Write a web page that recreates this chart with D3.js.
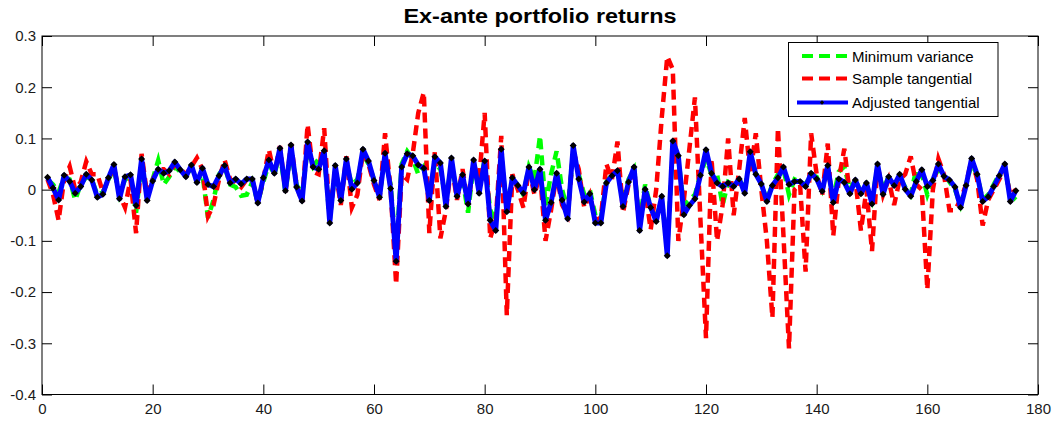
<!DOCTYPE html>
<html>
<head>
<meta charset="utf-8">
<script src="https://cdn.jsdelivr.net/npm/d3@7"></script>
<style>
  html, body { margin: 0; padding: 0; background: #fff; }
  svg { display: block; font-family: "Liberation Sans", Arial, Helvetica, sans-serif; }
</style>
</head>
<body>
<svg id="chart" width="1062" height="421"></svg>
<script>
// Ex-ante returns of three portfolios, one value per period (periods 1..176)
const minimumVariance = [
  0.020, 0.010, -0.005, 0.025, 0.020, -0.020, 0.010, 0.025, 0.020, -0.010,
  -0.005, 0.020, 0.040, -0.010, 0.020, 0.025, -0.045, 0.050, -0.010, 0.020,
  0.057, 0.010, 0.025, 0.045, 0.035, 0.030, 0.040, 0.020, 0.030, -0.055,
  -0.020, 0.030, 0.045, 0.010, 0.005, -0.012, -0.010, 0.015, -0.025, 0.015,
  0.050, 0.030, 0.070, -0.005, 0.075, 0.010, -0.010, 0.080, 0.045, 0.060,
  0.070, -0.060, 0.040, -0.015, 0.050, 0.010, 0.020, 0.070, 0.050, 0.020,
  -0.010, 0.060, 0.010, -0.120, 0.050, 0.075, 0.060, 0.030, 0.045, -0.005,
  0.050, 0.040, -0.020, 0.050, -0.005, 0.020, -0.045, 0.050, 0.000, 0.060,
  -0.040, -0.060, 0.060, -0.030, 0.020, 0.010, -0.010, 0.045, 0.020, 0.105,
  -0.030, 0.030, 0.075, 0.000, -0.040, 0.070, 0.030, -0.010, 0.000, -0.050,
  -0.055, 0.015, 0.030, 0.035, -0.020, 0.020, 0.040, -0.060, 0.010, -0.035,
  -0.055, -0.020, -0.110, 0.075, 0.060, -0.030, -0.020, -0.010, 0.030, 0.060,
  0.030, 0.030, -0.030, 0.015, 0.010, 0.020, 0.000, 0.060, 0.035, 0.010,
  -0.020, 0.010, 0.030, 0.040, -0.010, 0.020, 0.015, 0.010, 0.030, 0.025,
  0.000, 0.040, -0.015, 0.035, 0.045, 0.000, 0.020, -0.005, 0.010, -0.020,
  0.045, 0.000, 0.025, 0.010, 0.025, 0.005, -0.010, 0.040, 0.030, -0.010,
  0.020, 0.040, 0.030, 0.015, 0.000, -0.030, 0.010, 0.050, 0.030, -0.020,
  -0.010, 0.010, 0.030, 0.040, -0.010, -0.020
];

const sampleTangential = [
  0.020, -0.010, -0.060, 0.020, 0.045, 0.000, 0.015, 0.055, 0.030, 0.030,
  -0.005, 0.020, 0.045, -0.010, -0.035, 0.020, -0.085, 0.070, -0.010, 0.020,
  0.040, 0.040, 0.030, 0.050, 0.040, 0.030, 0.045, 0.062, 0.040, -0.052,
  -0.030, 0.020, 0.058, 0.020, 0.015, 0.005, 0.020, 0.020, -0.026, 0.020,
  0.078, 0.030, 0.085, -0.005, 0.090, 0.010, -0.025, 0.127, 0.035, 0.030,
  0.120, -0.055, 0.040, -0.030, 0.065, -0.035, -0.010, 0.075, 0.050, 0.010,
  -0.020, 0.110, 0.000, -0.185, 0.030, 0.020, 0.070, 0.150, 0.190, -0.085,
  0.075, -0.095, -0.040, 0.050, -0.020, 0.040, -0.030, 0.050, 0.020, 0.150,
  -0.095, -0.060, 0.105, -0.245, 0.030, 0.000, -0.035, 0.040, -0.010, 0.030,
  -0.100, -0.040, 0.030, -0.030, -0.050, 0.075, 0.040, -0.035, -0.010, -0.060,
  -0.055, 0.050, 0.020, 0.094, -0.045, 0.010, 0.040, -0.070, 0.000, -0.078,
  0.000, 0.140, 0.260, 0.235, -0.100, -0.020, 0.080, 0.180, -0.060, -0.290,
  0.060, -0.100, -0.030, 0.100, -0.050, 0.040, 0.140, 0.030, 0.110, 0.000,
  -0.100, -0.250, 0.120, -0.090, -0.310, 0.000, 0.010, -0.160, 0.110, 0.030,
  -0.010, 0.090, -0.090, 0.020, 0.080, -0.010, 0.020, -0.080, 0.000, -0.120,
  0.050, -0.010, 0.020, -0.030, 0.020, 0.030, 0.065, 0.010, 0.000, -0.195,
  0.000, 0.060, 0.030, -0.040, -0.040, -0.020, 0.010, 0.060, 0.020, -0.070,
  -0.020, 0.000, 0.020, 0.040, -0.010, 0.000
];

const adjustedTangential = [
  0.024, 0.003, -0.020, 0.028, 0.016, -0.007, 0.006, 0.030, 0.019, -0.015,
  -0.009, 0.023, 0.049, -0.018, 0.025, 0.029, -0.031, 0.060, -0.021, 0.017,
  0.040, 0.032, 0.037, 0.054, 0.039, 0.025, 0.048, 0.014, 0.042, 0.010,
  0.006, 0.027, 0.047, 0.013, 0.021, 0.011, 0.021, 0.021, -0.026, 0.023,
  0.058, 0.032, 0.081, -0.002, 0.087, 0.005, -0.022, 0.093, 0.044, 0.040,
  0.076, -0.065, 0.047, -0.021, 0.060, 0.001, 0.013, 0.079, 0.056, 0.018,
  -0.015, 0.071, 0.002, -0.140, 0.044, 0.070, 0.066, 0.048, 0.042, -0.021,
  0.064, 0.052, -0.033, 0.062, -0.013, 0.029, -0.028, 0.058, -0.007, 0.056,
  -0.060, -0.080, 0.079, -0.043, 0.023, 0.008, -0.007, 0.044, 0.000, 0.040,
  -0.060, -0.025, 0.032, -0.020, -0.057, 0.086, 0.021, -0.024, -0.008, -0.065,
  -0.065, 0.013, 0.027, 0.037, -0.033, 0.015, 0.044, -0.080, 0.001, -0.035,
  -0.062, -0.013, -0.129, 0.095, 0.066, -0.049, -0.031, -0.018, 0.028, 0.078,
  0.032, 0.013, 0.006, 0.013, 0.006, 0.021, -0.007, 0.074, 0.030, 0.011,
  -0.023, 0.008, 0.023, 0.044, 0.010, 0.016, 0.016, 0.006, 0.032, 0.021,
  -0.003, 0.047, -0.025, 0.021, 0.014, -0.008, 0.019, -0.008, 0.013, -0.028,
  0.050, -0.009, 0.025, 0.008, 0.030, 0.001, -0.013, 0.016, 0.039, 0.006,
  0.018, 0.050, 0.026, 0.019, 0.005, -0.035, 0.008, 0.061, 0.030, -0.023,
  -0.014, 0.006, 0.027, 0.050, -0.023, -0.002
];

const seriesNames = ["Minimum variance", "Sample tangential", "Adjusted tangential"];
const xTickValues = [0, 20, 40, 60, 80, 100, 120, 140, 160, 180];
const yTickValues = [0.3, 0.2, 0.1, 0, -0.1, -0.2, -0.3, -0.4];
const yTickLabels = ["0.3", "0.2", "0.1", "0", "-0.1", "-0.2", "-0.3", "-0.4"];
const chartTitle = "Ex-ante portfolio returns";

const svg = d3.select("#chart");
const plotLeft = 42, plotRight = 1038, plotTop = 36, plotBottom = 394.5;

const x = d3.scaleLinear().domain([0, 180]).range([plotLeft, plotRight]);
const y = d3.scaleLinear().domain([-0.4, 0.3]).range([plotBottom, plotTop]);

// title
svg.append("text")
  .attr("x", (403 + 677) / 2).attr("y", 22.5)
  .attr("text-anchor", "middle")
  .attr("font-weight", "bold").attr("font-size", 20)
  .attr("textLength", 273).attr("lengthAdjust", "spacingAndGlyphs")
  .attr("fill", "#000")
  .text(chartTitle);

// plot area clip
svg.append("defs").append("clipPath").attr("id", "plotClip")
  .append("rect").attr("x", plotLeft).attr("y", plotTop)
  .attr("width", plotRight - plotLeft).attr("height", plotBottom - plotTop);

const plot = svg.append("g").attr("clip-path", "url(#plotClip)");

const line = d3.line()
  .x((d, i) => x(i + 1))
  .y(d => y(d));

plot.append("path").datum(minimumVariance)
  .attr("fill", "none").attr("stroke", "#00ff00")
  .attr("stroke-width", 4.5).attr("stroke-dasharray", "10,6")
  .attr("d", line);

plot.append("path").datum(sampleTangential)
  .attr("fill", "none").attr("stroke", "#ff0000")
  .attr("stroke-width", 4.5).attr("stroke-dasharray", "10,6")
  .attr("d", line);

plot.append("path").datum(adjustedTangential)
  .attr("fill", "none").attr("stroke", "#0000ff")
  .attr("stroke-width", 5).attr("stroke-linejoin", "round")
  .attr("d", line);

const diamond = "M0,-3.5L3.5,0L0,3.5L-3.5,0Z";
plot.selectAll("path.marker").data(adjustedTangential).enter()
  .append("path").attr("class", "marker")
  .attr("d", diamond).attr("fill", "#000")
  .attr("transform", (d, i) => `translate(${x(i + 1)},${y(d)})`);

// axes with inward ticks on all four sides
const fontSize = 15;
const gx = svg.append("g").attr("transform", `translate(0,${plotBottom})`)
  .call(d3.axisBottom(x).tickValues(xTickValues).tickFormat(d3.format("d"))
    .tickSizeInner(-10).tickSizeOuter(0).tickPadding(9));
const gy = svg.append("g").attr("transform", `translate(${plotLeft},0)`)
  .call(d3.axisLeft(y).tickValues(yTickValues)
    .tickFormat((d, i) => yTickLabels[i])
    .tickSizeInner(-10).tickSizeOuter(0).tickPadding(6));
const gt = svg.append("g").attr("transform", `translate(0,${plotTop})`)
  .call(d3.axisTop(x).tickValues(xTickValues).tickFormat("")
    .tickSizeInner(-10).tickSizeOuter(0));
const gr = svg.append("g").attr("transform", `translate(${plotRight},0)`)
  .call(d3.axisRight(y).tickValues(yTickValues).tickFormat("")
    .tickSizeInner(-10).tickSizeOuter(0));

[gx, gy, gt, gr].forEach(g => {
  g.select(".domain").remove();
  g.selectAll("line").attr("stroke", "#000");
  g.selectAll("text").attr("font-size", fontSize).attr("fill", "#1a1a1a")
    .attr("font-family", "\"Liberation Sans\", Arial, sans-serif");
});

svg.append("rect")
  .attr("x", plotLeft).attr("y", plotTop)
  .attr("width", plotRight - plotLeft).attr("height", plotBottom - plotTop)
  .attr("fill", "none").attr("stroke", "#000").attr("stroke-width", 1);

// legend
const legend = svg.append("g");
legend.append("rect")
  .attr("x", 788.5).attr("y", 42.5).attr("width", 209.5).attr("height", 74)
  .attr("fill", "#fff").attr("stroke", "#000").attr("stroke-width", 1);

const legendRows = [
  { name: seriesNames[0], color: "#00ff00", dash: "11,6", cy: 56 },
  { name: seriesNames[1], color: "#ff0000", dash: "11,6", cy: 78.5 },
  { name: seriesNames[2], color: "#0000ff", dash: null, cy: 102.5 }
];
legendRows.forEach((r, k) => {
  const ln = legend.append("line")
    .attr("x1", k === 2 ? 797 : 802).attr("x2", k === 2 ? 848 : 847)
    .attr("y1", r.cy).attr("y2", r.cy)
    .attr("stroke", r.color).attr("stroke-width", 4);
  if (r.dash) ln.attr("stroke-dasharray", r.dash);
  legend.append("text")
    .attr("x", 852).attr("y", r.cy + 5.5)
    .attr("font-size", 15).attr("fill", "#000")
    .text(r.name);
});
legend.append("path").attr("d", "M0,-2.2L2.2,0L0,2.2L-2.2,0Z")
  .attr("fill", "#000").attr("transform", "translate(822,102.5)");
</script>
</body>
</html>
